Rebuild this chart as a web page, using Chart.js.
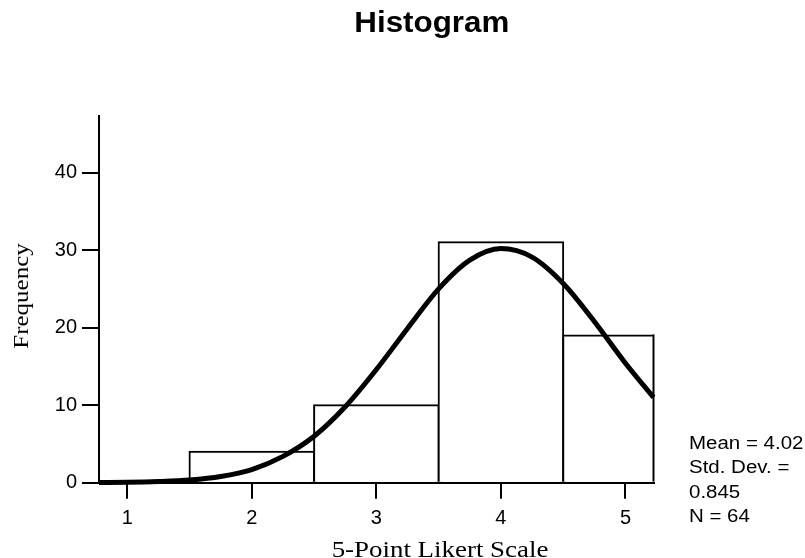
<!DOCTYPE html>
<html>
<head>
<meta charset="utf-8">
<title>Histogram</title>
<script src="https://cdn.jsdelivr.net/npm/chart.js@4/dist/chart.umd.min.js"></script>
<style>
  html, body { margin: 0; padding: 0; background: #fff; }
  #wrap { width: 805px; height: 558px; position: relative; }
</style>
</head>
<body>
<div id="wrap"><canvas id="chart"></canvas></div>
<script>
// Bin centres on the Likert scale and the count in each bin
const scalePoints = [1, 2, 3, 4, 5];
const frequencies = [0, 4, 10, 31, 19];

// Tick labels
const xTicks = [1, 2, 3, 4, 5];
const yTicks = [0, 10, 20, 30, 40];

// Fitted normal curve, sampled along the axis
const curveX = [0.773, 1, 1.25, 1.5, 1.75, 2, 2.25, 2.5, 2.75, 3, 3.25, 3.5, 3.75, 4, 4.25, 4.5, 4.75, 5, 5.225];
const curveY = [0.02, 0.05, 0.15, 0.35, 0.8, 1.7, 3.4, 6.0, 9.8, 14.6, 19.9, 25.0, 28.7, 30.2, 29.1, 25.7, 20.8, 15.4, 11.0];

// Texts
const titleText = 'Histogram';
const xTitle = '5-Point Likert Scale';
const yTitle = 'Frequency';
const statLines = ['Mean = 4.02', 'Std. Dev. =', '0.845', 'N = 64'];

const SANS = '"Liberation Sans", Arial, Helvetica, sans-serif';
const SERIF = '"Liberation Serif", "Times New Roman", Times, serif';

function wideText(ctx, text, x, y, font, sx, align, rot) {
  ctx.save();
  ctx.translate(x, y);
  if (rot) ctx.rotate(rot);
  ctx.scale(sx, 1);
  ctx.font = font;
  ctx.textAlign = align;
  ctx.textBaseline = 'alphabetic';
  ctx.fillStyle = '#000';
  ctx.fillText(text, 0, 0);
  ctx.restore();
}

const decorations = {
  id: 'decorations',
  afterDatasetDraw(chart, args) {
    if (args.meta.type !== 'bar') return;
    // close the bar that runs past the right end of the axis
    const { ctx, chartArea } = chart;
    args.meta.data.forEach((bar) => {
      const p = bar.getProps(['x', 'y', 'base', 'width'], true);
      const left = p.x - p.width / 2, right = p.x + p.width / 2;
      if (right > chartArea.right + 0.5 && left < chartArea.right) {
        ctx.save();
        ctx.strokeStyle = '#000';
        ctx.lineWidth = 2;
        ctx.beginPath();
        ctx.moveTo(chartArea.right, p.base);
        ctx.lineTo(chartArea.right, p.y - 1);
        ctx.stroke();
        ctx.restore();
      }
    });
  },
  afterDraw(chart) {
    const ctx = chart.ctx;
    wideText(ctx, titleText, 431.8, 32.3, 'bold 29px ' + SANS, 1.08, 'center');
    wideText(ctx, xTitle, 440, 556.5, '23px ' + SERIF, 1.17, 'center');
    wideText(ctx, yTitle, 27.5, 296, '21px ' + SERIF, 1.19, 'center', -Math.PI / 2);
    const baselines = [449, 473.3, 497.7, 521.7];
    statLines.forEach((t, i) => wideText(ctx, t, 689, baselines[i], '17.5px ' + SANS, 1.17, 'left'));
  }
};

const tickFont = { family: SANS, size: 20 };
const axisGrid = (len) => ({
  display: true, drawOnChartArea: false, drawTicks: true, offset: false,
  tickLength: len, tickWidth: 2, tickColor: '#000', lineWidth: 2, color: '#000'
});

new Chart(document.getElementById('chart'), {
  type: 'bar',
  data: {
    datasets: [
      {
        type: 'line',
        data: curveX.map((x, i) => ({ x, y: curveY[i] })),
        borderColor: '#000',
        borderWidth: 5,
        pointRadius: 0,
        cubicInterpolationMode: 'monotone',
        fill: false,
        clip: 6,
        order: 0
      },
      {
        type: 'bar',
        data: scalePoints.map((x, i) => ({ x, y: frequencies[i] })),
        backgroundColor: '#fff',
        borderColor: '#000',
        borderWidth: 2,
        inflateAmount: 1,
        barPercentage: 1,
        categoryPercentage: 1,
        grouped: false,
        clip: 0,
        order: 1
      }
    ]
  },
  options: {
    responsive: true,
    maintainAspectRatio: false,
    animation: false,
    devicePixelRatio: 1,
    layout: { padding: { top: 116, right: 151.5, left: 0, bottom: 0 } },
    plugins: { legend: { display: false }, tooltip: { enabled: false }, title: { display: false } },
    scales: {
      x: {
        type: 'linear',
        offset: false,
        min: 0.773,
        max: 5.225,
        afterBuildTicks: (s) => { s.ticks = xTicks.map((v) => ({ value: v })); },
        afterFit: (s) => { s.height = 75.3; },
        grid: axisGrid(16),
        border: { display: true, color: '#000', width: 2, z: 1 },
        ticks: { color: '#000', font: tickFont, padding: 8, maxRotation: 0, autoSkip: false }
      },
      y: {
        type: 'linear',
        min: 0,
        max: 47.3,
        afterBuildTicks: (s) => { s.ticks = yTicks.map((v) => ({ value: v })); },
        afterFit: (s) => { s.width = 99; },
        grid: axisGrid(17),
        border: { display: true, color: '#000', width: 2, z: 1 },
        ticks: { color: '#000', font: tickFont, padding: 5 }
      }
    }
  },
  plugins: [decorations]
});
</script>
</body>
</html>
